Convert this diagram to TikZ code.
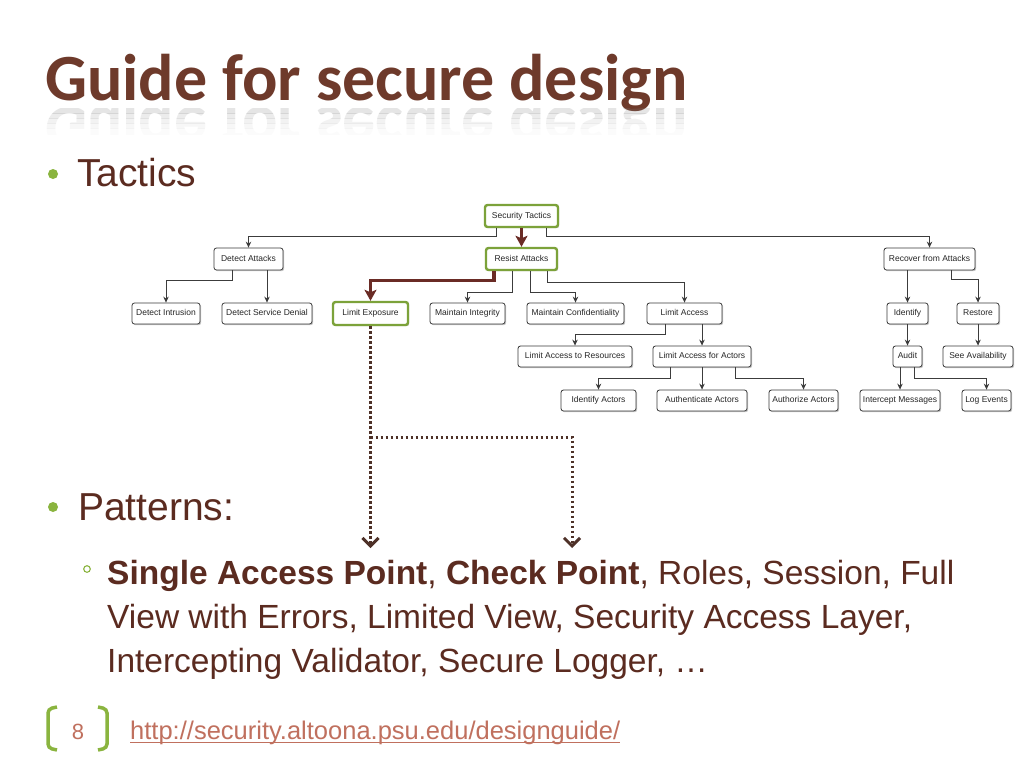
\documentclass[tikz,border=0pt]{standalone}
\usepackage{fontspec}
\setmainfont{Liberation Sans}
\newfontfamily\titlefont{Carlito}
\usetikzlibrary{arrows.meta,shadows}
\definecolor{titlecol}{HTML}{6E3A2B}
\definecolor{textcol}{HTML}{5B2B20}
\definecolor{bulletgreen}{HTML}{8AB43F}
\definecolor{nodegreen}{HTML}{7CA23A}
\definecolor{arrowbrown}{HTML}{6A2B25}
\definecolor{dotbrown}{HTML}{4E3128}
\definecolor{urlcol}{HTML}{C0705E}
\definecolor{boxline}{HTML}{3A3A3A}
\definecolor{connc}{HTML}{3C3C3C}
\begin{document}
\begin{tikzpicture}[x=1pt,y=-1pt,
  box/.style={draw=boxline, line width=0.8pt, rounded corners=2.5pt, fill=white, inner sep=0pt,
    font=\fontsize{8.5}{10}\selectfont, text=black!85, text height=6.4pt, text depth=1.8pt,
    drop shadow={shadow xshift=1.2pt, shadow yshift=-1.2pt, opacity=0.22, fill=black}},
  gbox/.style={box, draw=nodegreen, line width=2.4pt},
  conn/.style={draw=connc, line width=0.9pt, -{Stealth[length=6pt,width=5.5pt]}},
  brownarrow/.style={draw=arrowbrown, line width=3.2pt, -{Stealth[length=11pt,width=12pt,inset=2.5pt]}},
  dotarrow/.style={draw=dotbrown, line width=3pt, dash pattern=on 2.6pt off 2.4pt,
    -{Straight Barb[length=8pt,width=16pt,line width=3pt]}},
  bodytext/.style={anchor=base west, inner sep=0pt, text=textcol},
  titlestyle/.style={anchor=base west, inner sep=0pt, font=\titlefont\bfseries\fontsize{66}{66}\selectfont}
]
\useasboundingbox (0,0) rectangle (1024,768);
\fill[white] (0,0) rectangle (1024,768);

% ---- title with reflection ----
\node[titlestyle, text=titlecol] (title) at (45,100) {Guide for secure design};
\foreach \ya/\yb/\op in {108/113/0.20, 113/118/0.15, 118/123/0.10, 123/128/0.06, 128/134/0.03} {
  \begin{scope}
    \clip (30,\ya) rectangle (720,\yb);
    \node[titlestyle, text=gray, opacity=\op] at (45,107) {\scalebox{1}[-1]{Guide for secure design}};
  \end{scope}
}

% ---- bullets ----
\fill[bulletgreen] (53,174) circle (5);
\node[bodytext, font=\fontsize{39}{39}\selectfont] (tactics) at (77,186) {Tactics};
\fill[bulletgreen] (53,507) circle (5);
\node[bodytext, font=\fontsize{39}{39}\selectfont] (patterns) at (78,520) {Patterns:};
\draw[bulletgreen, line width=1.1pt] (87,569) circle (3.3);
\node[bodytext, font=\fontsize{33.5}{40}\selectfont] (l1) at (107,584)
  {\textbf{Single Access Point}, \textbf{Check Point}, Roles, Session, Full};
\node[bodytext, font=\fontsize{33.5}{40}\selectfont] (l2) at (107,628)
  {View with Errors, Limited View, Security Access Layer,};
\node[bodytext, font=\fontsize{33.5}{40}\selectfont] (l3) at (107,672)
  {Intercepting Validator, Secure Logger, …};

% ---- footer ----
\draw[bulletgreen, line width=3.5pt, rounded corners=4pt] (57,707) -- (48,709) -- (48,748) -- (57,750);
\draw[bulletgreen, line width=3.5pt, rounded corners=4pt] (98,707) -- (107,709) -- (107,748) -- (98,750);
\node[anchor=base, inner sep=0pt, text=urlcol, font=\fontsize{22}{22}\selectfont] (pnum) at (78,739) {8};
\node[anchor=base west, inner sep=0pt, text=urlcol, font=\fontsize{25.5}{26}\selectfont] (url) at (130,739)
  {http://security.altoona.psu.edu/designguide/};
\draw[urlcol, line width=1.2pt] ([yshift=-3.5pt]url.base west) -- ([yshift=-3.5pt]url.base east);

% ---- tree nodes ----
\node[gbox, minimum width=73pt, minimum height=22pt] (st) at (521.5,216) {Security Tactics};
\node[box, minimum width=69pt, minimum height=22pt] (da) at (248.5,259) {Detect Attacks};
\node[gbox, minimum width=71pt, minimum height=22pt] (ra) at (521.5,259) {Resist Attacks};
\node[box, minimum width=91pt, minimum height=22pt] (rfa) at (929.5,259) {Recover from Attacks};

\node[box, minimum width=68pt, minimum height=21pt] (di) at (166,313.5) {Detect Intrusion};
\node[box, minimum width=90pt, minimum height=21pt] (dsd) at (267,313.5) {Detect Service Denial};
\node[gbox, minimum width=75pt, minimum height=23pt] (le) at (370.5,313.5) {Limit Exposure};
\node[box, minimum width=75pt, minimum height=21pt] (mi) at (467.5,313.5) {Maintain Integrity};
\node[box, minimum width=97pt, minimum height=21pt] (mc) at (575.5,313.5) {Maintain Confidentiality};
\node[box, minimum width=75pt, minimum height=21pt] (la) at (684.5,313.5) {Limit Access};
\node[box, minimum width=41pt, minimum height=21pt] (idf) at (907.5,313.5) {Identify};
\node[box, minimum width=42pt, minimum height=21pt] (rs) at (978,313.5) {Restore};

\node[box, minimum width=114pt, minimum height=21pt] (lar) at (575,356.5) {Limit Access to Resources};
\node[box, minimum width=98pt, minimum height=21pt] (laa) at (702,356.5) {Limit Access for Actors};
\node[box, minimum width=29pt, minimum height=21pt] (au) at (907.5,356.5) {Audit};
\node[box, minimum width=70pt, minimum height=21pt] (sa) at (978,356.5) {See Availability};

\node[box, minimum width=75pt, minimum height=21pt] (ia) at (598.5,400.5) {Identify Actors};
\node[box, minimum width=90pt, minimum height=21pt] (aa) at (702,400.5) {Authenticate Actors};
\node[box, minimum width=69pt, minimum height=21pt] (aza) at (803.5,400.5) {Authorize Actors};
\node[box, minimum width=80pt, minimum height=21pt] (im) at (900,400.5) {Intercept Messages};
\node[box, minimum width=49pt, minimum height=21pt] (lev) at (986.5,400.5) {Log Events};

% ---- connectors ----
\draw[conn] ([xshift=-25pt]st.south) |- ([yshift=11.3pt]da.north) -- (da.north);
\draw[conn] ([xshift=25pt]st.south) |- ([yshift=11.3pt]rfa.north) -- (rfa.north);
\draw[brownarrow] (st.south) -- (ra.north);
\draw[brownarrow] ([xshift=-27.5pt]ra.south) |- ([yshift=20pt]le.north) -- (le.north);
\draw[conn] ([xshift=-9pt]ra.south) |- ([yshift=10.3pt]mi.north) -- (mi.north);
\draw[conn] ([xshift=8.5pt]ra.south) |- ([yshift=10.3pt]mc.north) -- (mc.north);
\draw[conn] ([xshift=26pt]ra.south) |- ([yshift=20.5pt]la.north) -- (la.north);
\draw[conn] ([xshift=-16.5pt]da.south) |- ([yshift=22pt]di.north) -- (di.north);
\draw[conn] (da.south -| dsd.north) -- (dsd.north);
\draw[conn] (rfa.south -| idf.north) -- (idf.north);
\draw[conn] ([xshift=22pt]rfa.south) |- ([yshift=23pt]rs.north) -- (rs.north);
\draw[conn] (idf.south) -- (au.north);
\draw[conn] (rs.south) -- (sa.north);
\draw[conn] ([xshift=-19pt]la.south) |- ([yshift=11pt]lar.north) -- (lar.north);
\draw[conn] (la.south -| laa.north) -- (laa.north);
\draw[conn] ([xshift=-32pt]laa.south) |- ([yshift=10.7pt]ia.north) -- (ia.north);
\draw[conn] (laa.south) -- (aa.north);
\draw[conn] ([xshift=33pt]laa.south) |- ([yshift=10.7pt]aza.north) -- (aza.north);
\draw[conn] (au.south -| im.north) -- (im.north);
\draw[conn] ([xshift=6.5pt]au.south) |- ([yshift=10.7pt]lev.north) -- (lev.north);

% ---- dotted links to patterns ----
\coordinate (p1) at (370.5,548);
\coordinate (p2) at (572,548);
\coordinate (jn) at (370.5,437);
\draw[dotarrow] (le.south) -- (p1);
\draw[dotarrow] (jn) -| (p2);
\end{tikzpicture}
\end{document}
